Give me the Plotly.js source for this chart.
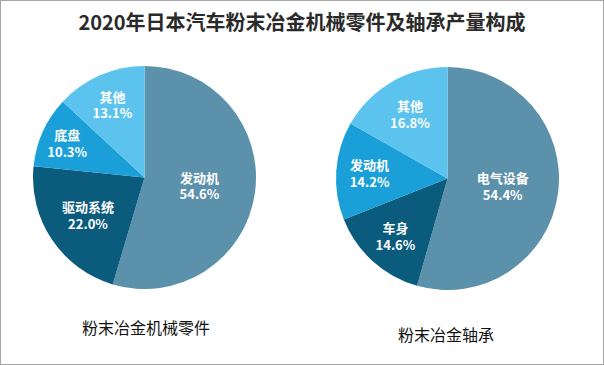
<!DOCTYPE html>
<html><head><meta charset="utf-8">
<script src="https://cdn.plot.ly/plotly-3.0.1.min.js"></script>
<style>html,body{margin:0;padding:0;background:#fff}#c{width:604px;height:365px}</style>
</head><body><div id="c"></div>
<script>
const partsLabels = ['发动机', '驱动系统', '底盘', '其他'];
const partsValues = [54.6, 22.0, 10.3, 13.1];
const bearLabels = ['电气设备', '车身', '发动机', '其他'];
const bearValues = [54.4, 14.6, 14.2, 16.8];
const sliceColors = ['#5b91ab', '#0b5b7d', '#1a9fd8', '#5cc3ee'];
const titleText = '2020年日本汽车粉末冶金机械零件及轴承产量构成';
const subTitles = ['粉末冶金机械零件', '粉末冶金轴承'];

const W = 604, H = 365;
function dom(x0, x1, y0, y1) { return {x: [x0 / W, x1 / W], y: [1 - y1 / H, 1 - y0 / H]}; }
const common = {
  type: 'pie', sort: false, direction: 'clockwise', rotation: 0,
  textinfo: 'text', textposition: 'inside', insidetextorientation: 'horizontal',
  texttemplate: '<b>%{label}</b><br><b>%{value:.1f}%</b>',
  textfont: {family: 'Noto Sans CJK SC', size: 13, color: '#ffffff'},
  marker: {colors: sliceColors, line: {width: 0}},
  hoverinfo: 'none', showlegend: false
};
const data = [
  Object.assign({}, common, {labels: partsLabels, values: partsValues, domain: dom(33, 256, 66, 289)}),
  Object.assign({}, common, {labels: bearLabels, values: bearValues, domain: dom(336, 559, 67, 290)})
];
const layout = {
  width: W, height: H, margin: {l: 0, r: 0, t: 0, b: 0},
  paper_bgcolor: '#ffffff',
  title: {text: '<b>' + titleText + '</b>', x: 302 / W, xanchor: 'center', y: 1 - 23 / H, yanchor: 'middle',
          font: {family: 'Noto Sans CJK SC', size: 20, color: '#2a2a2a'}},
  annotations: [
    {text: subTitles[0], x: 146 / W, y: 1 - 327 / H, xref: 'paper', yref: 'paper', xanchor: 'center', yanchor: 'middle', showarrow: false,
     font: {family: 'Noto Sans CJK SC', size: 16, color: '#111111'}},
    {text: subTitles[1], x: 446 / W, y: 1 - 334 / H, xref: 'paper', yref: 'paper', xanchor: 'center', yanchor: 'middle', showarrow: false,
     font: {family: 'Noto Sans CJK SC', size: 16, color: '#111111'}}
  ],
  shapes: [{type: 'rect', xref: 'paper', yref: 'paper', x0: 0, x1: 1, y0: 0, y1: 1,
            line: {color: '#a6a6a6', width: 2}}]
};
Plotly.newPlot('c', data, layout, {displayModeBar: false, staticPlot: true});
</script></body></html>
